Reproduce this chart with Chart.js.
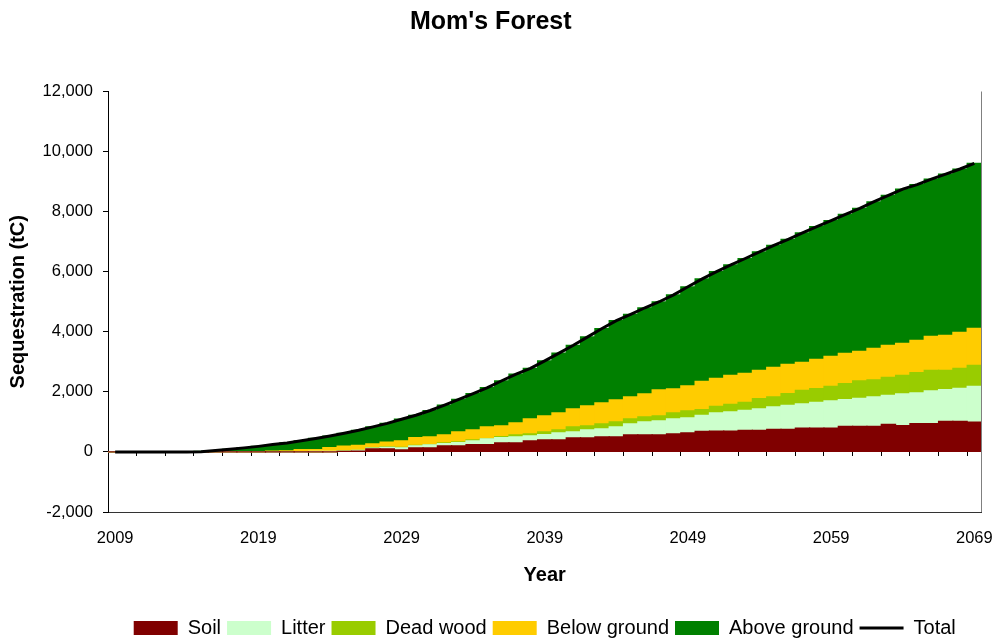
<!DOCTYPE html>
<html><head><meta charset="utf-8">
<script src="https://cdn.jsdelivr.net/npm/chart.js@4.4.1/dist/chart.umd.min.js"></script>
<style>html,body{margin:0;padding:0;background:#fff;}canvas{display:block;}</style>
</head><body>
<canvas id="c" width="996" height="639"></canvas>
<script>
const years = ['2009','2010','2011','2012','2013','2014','2015','2016','2017','2018',
  '2019','2020','2021','2022','2023','2024','2025','2026','2027','2028',
  '2029','2030','2031','2032','2033','2034','2035','2036','2037','2038',
  '2039','2040','2041','2042','2043','2044','2045','2046','2047','2048',
  '2049','2050','2051','2052','2053','2054','2055','2056','2057','2058',
  '2059','2060','2061','2062','2063','2064','2065','2066','2067','2068','2069'];
const tickLabels = ['2009','2019','2029','2039','2049','2059','2069'];
const yTicks = [-2000, 0, 2000, 4000, 6000, 8000, 10000, 12000];

const soil = [0,0,0,0,0,0,0,0,0,0,0,0,0,0,0,0,
  20,30,100,100,70,133,133,200,200,244,244,300,300,366,400,400,466,466,500,500,
  566,566,566,599,633,688,690,690,720,720,755,755,790,790,790,855,855,855,920,880,
  945,945,1020,1020,990];
const litter = [0,0,0,0,0,0,0,0,0,0,0,0,0,0,
  5,10,10,20,30,50,66,67,100,78,111,122,189,177,200,167,177,233,200,267,266,333,
  367,433,466,500,499,533,609,642,668,712,744,799,808,864,908,888,932,977,967,1052,
  1020,1086,1056,1100,1197];
const deadWood = [0,0,0,0,0,0,0,0,0,0,0,0,0,0,0,0,
  5,5,10,15,20,22,10,22,22,34,11,34,66,66,89,100,167,133,167,166,
  166,167,167,200,233,189,222,255,266,344,333,389,456,455,489,533,577,566,599,621,
  677,689,644,666,699];
const belowGround = [0,0,0,0,0,0,0,0,0,0,0,
  30,40,78,75,130,155,165,130,165,210,255,257,266,333,333,389,355,400,500,
  533,566,599,666,699,733,733,766,866,799,833,943,932,966,966,944,987,976,932,977,
  999,1010,988,1054,1066,1066,1077,1132,1165,1199,1232];
const aboveGround = [0,0,0,0,0,0,
  10,45,90,135,185,215,260,292,370,390,430,500,565,620,724,743,880,994,1084,1207,
  1307,1504,1624,1681,1831,1991,2118,2298,2478,2638,2748,2868,2935,3132,3302,3407,
  3547,3677,3820,3940,4061,4161,4304,4414,4514,4624,4758,4878,4988,5131,5181,5228,
  5365,5435,5492];
const total = [0,0,0,0,0,0,
  10,45,90,135,185,245,300,370,450,530,620,720,835,950,1090,1220,1380,1560,1750,1940,
  2140,2370,2590,2780,3030,3290,3550,3830,4110,4370,4580,4800,5000,5230,5500,5760,
  6000,6230,6440,6660,6880,7080,7290,7500,7700,7910,8110,8330,8540,8750,8900,9080,
  9250,9420,9610];

Chart.defaults.font.family = '"Liberation Sans", Arial, sans-serif';
Chart.defaults.color = '#000';

const bar = (label, data, color) => ({
  type: 'bar', label, data, backgroundColor: color, borderWidth: 0,
  barPercentage: 1, categoryPercentage: 1, stack: 'parts', inflateAmount: 0.6
});

const frame = {
  id: 'frame',
  afterDraw(chart) {
    const {ctx, chartArea: a} = chart;
    ctx.save();
    ctx.strokeStyle = '#808080';
    ctx.lineWidth = 1;
    ctx.beginPath();
    ctx.moveTo(Math.round(a.right) - 0.5, a.top);
    ctx.lineTo(Math.round(a.right) - 0.5, a.bottom);
    ctx.stroke();
    ctx.restore();
  }
};

new Chart(document.getElementById('c'), {
  type: 'bar',
  data: {
    labels: years,
    datasets: [
      bar('Soil', soil, '#800000'),
      bar('Litter', litter, '#CCFFCC'),
      bar('Dead wood', deadWood, '#99CC00'),
      bar('Below ground', belowGround, '#FFCC00'),
      bar('Above ground', aboveGround, '#008000'),
      {
        type: 'line', label: 'Total', data: total, stack: 'total', order: -1,
        borderColor: '#000', backgroundColor: '#000', borderWidth: 3,
        pointRadius: 0, pointHoverRadius: 0, tension: 0, fill: false
      }
    ]
  },
  options: {
    responsive: false,
    animation: false,
    devicePixelRatio: 1,
    layout: { padding: { left: 0, right: 14.5, top: 0, bottom: -9 } },
    plugins: {
      title: {
        display: true, text: "Mom's Forest",
        font: { size: 25, weight: 'bold' },
        padding: { top: 7, bottom: 54.5 }
      },
      legend: {
        position: 'bottom',
        fullSize: false,
        labels: {
          usePointStyle: true,
          pointStyleWidth: 44,
          boxHeight: 14,
          padding: 6,
          font: { size: 20 },
          sort: (a, b) => a.datasetIndex - b.datasetIndex,
          generateLabels(chart) {
            const items = Chart.defaults.plugins.legend.labels.generateLabels(chart);
            items.forEach(it => {
              const ds = chart.data.datasets[it.datasetIndex];
              if (ds.type === 'line') {
                it.pointStyle = 'line'; it.strokeStyle = '#000'; it.fillStyle = '#000'; it.lineWidth = 3;
              } else {
                it.pointStyle = 'rect'; it.fillStyle = ds.backgroundColor; it.lineWidth = 0;
              }
            });
            return items;
          }
        }
      },
      tooltip: { enabled: false }
    },
    scales: {
      x: {
        type: 'category',
        stacked: true,
        offset: true,
        grid: { display: false, drawTicks: false, offset: true },
        border: { display: true, color: '#333', width: 1 },
        ticks: {
          autoSkip: false, maxRotation: 0, minRotation: 0, padding: 16.5,
          font: { size: 16.5 },
          callback(value) {
            const lab = this.getLabelForValue(value);
            return tickLabels.includes(lab) ? lab : '';
          }
        },
        title: { display: true, text: 'Year', font: { size: 20, weight: 'bold' }, padding: { top: 0, bottom: 25 } },
        afterFit(scale) { scale.height = 100; scale.paddingLeft = 0; scale.paddingRight = 0; }
      },
      x2: {
        type: 'category',
        position: { y: 0 },
        offset: true,
        z: 1,
        grid: {
          offset: true, drawOnChartArea: false, drawTicks: true, tickLength: 4, lineWidth: 1,
          color: ctx => (ctx.index > 0 && ctx.index % 2 === 0) ? '#000' : 'rgba(0,0,0,0)'
        },
        border: { display: true, color: '#000', width: 1 },
        ticks: { display: false },
        afterFit(scale) { scale.paddingLeft = 0; scale.paddingRight = 0; }
      },
      y: {
        stacked: true,
        min: -2000, max: 12000,
        afterBuildTicks(scale) { scale.ticks = yTicks.map(v => ({ value: v })); },
        grid: { drawOnChartArea: false, drawTicks: true, tickLength: 5, color: '#000' },
        border: { display: true, color: '#000', width: 1 },
        ticks: {
          padding: 10, font: { size: 16.5 },
          callback: v => Number(v).toLocaleString('en-US')
        },
        title: { display: true, text: 'Sequestration (tC)', font: { size: 20, weight: 'bold' }, padding: { top: 6, bottom: 0 } },
        afterFit(scale) { scale.width = 108; }
      }
    }
  },
  plugins: [frame]
});
</script>
</body></html>
